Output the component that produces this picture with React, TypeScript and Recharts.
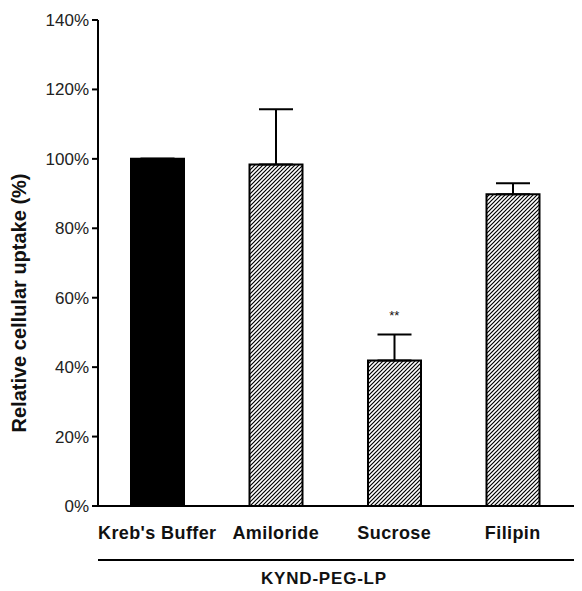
import React from "react";
import {
  BarChart,
  Bar,
  Cell,
  XAxis,
  YAxis,
  ErrorBar,
  ReferenceDot,
  Label,
} from "recharts";

const treatments = ["Kreb's Buffer", "Amiloride", "Sucrose", "Filipin"];
const uptake = [100, 98.4, 41.9, 89.8];
const uptakeErr = [0, 15.9, 7.5, 3.2];
const yTicks = [0, 20, 40, 60, 80, 100, 120, 140];
const groupName = "KYND-PEG-LP";
const sigMark = { x: "Sucrose", y: 55, text: "**" };

const data = treatments.map((name, i) => ({
  name,
  uptake: uptake[i],
  err: [0, uptakeErr[i]],
}));

const FONT = "'Liberation Sans', Arial, Helvetica, sans-serif";

export default function App() {
  return (
    <div style={{ width: 574, height: 583, background: "#fff" }}>
      <BarChart
        width={574}
        height={583}
        data={data}
        margin={{ top: 12, right: 0, bottom: 8, left: 0 }}
        barCategoryGap={0}
      >
        <defs>
          <pattern id="hatch" patternUnits="userSpaceOnUse" width="4" height="4">
            <rect width="4" height="4" fill="#fff" />
            <path d="M-1,1 l2,-2 M0,4 l4,-4 M3,5 l2,-2" stroke="#000" strokeWidth={1.2} />
          </pattern>
        </defs>
        <XAxis
          dataKey="name"
          height={54}
          padding={{ left: 0, right: 10 }}
          axisLine={{ stroke: "#000", strokeWidth: 2 }}
          tickLine={false}
          tickSize={0}
          tickMargin={20}
          tick={{ fill: "#111", fontSize: 18, fontWeight: "bold", fontFamily: FONT, letterSpacing: 0.4 }}
          interval={0}
        />
        <XAxis
          xAxisId="grp"
          dataKey="name"
          height={23}
          axisLine={{ stroke: "#000", strokeWidth: 2 }}
          tickLine={false}
          tick={false}
        >
          <Label
            content={({ viewBox }: any) => (
              <text
                x={viewBox.x + viewBox.width / 2 - 16}
                y={viewBox.y + 24}
                textAnchor="middle"
                fill="#111"
                fontSize={17}
                fontWeight="bold"
                fontFamily={FONT}
                letterSpacing={0.8}
              >
                {groupName}
              </text>
            )}
          />
        </XAxis>
        <YAxis
          width={90}
          domain={[0, 140]}
          ticks={yTicks}
          interval={0}
          tickFormatter={(v: number) => `${v}%`}
          axisLine={{ stroke: "#000", strokeWidth: 2 }}
          tickLine={{ stroke: "#000", strokeWidth: 2 }}
          tickSize={6}
          tickMargin={3}
          tick={{ fill: "#222", fontSize: 17, fontFamily: FONT }}
        >
          <Label
            content={({ viewBox }: any) => {
              const cx = 11;
              const cy = viewBox.y + viewBox.height / 2 + 40;
              return (
                <text
                  x={cx}
                  y={cy}
                  transform={`rotate(-90 ${cx} ${cy})`}
                  textAnchor="middle"
                  dominantBaseline="central"
                  fill="#111"
                  fontSize={20}
                  fontWeight="bold"
                  fontFamily={FONT}
                >
                  Relative cellular uptake (%)
                </text>
              );
            }}
          />
        </YAxis>
        <Bar
          dataKey="uptake"
          barSize={53}
          stroke="#000"
          strokeWidth={2}
          isAnimationActive={false}
        >
          {data.map((d, i) => (
            <Cell key={d.name} fill={i === 0 ? "#000" : "url(#hatch)"} />
          ))}
          <ErrorBar
            dataKey="err"
            direction="y"
            width={17}
            stroke="#000"
            strokeWidth={2}
            isAnimationActive={false}
          />
        </Bar>
        <ReferenceDot
          x={sigMark.x}
          y={sigMark.y}
          r={0}
          stroke="none"
          fill="none"
          label={{
            value: sigMark.text,
            position: "center",
            fill: "#111",
            fontSize: 13,
            fontFamily: FONT,
          }}
        />
      </BarChart>
    </div>
  );
}
